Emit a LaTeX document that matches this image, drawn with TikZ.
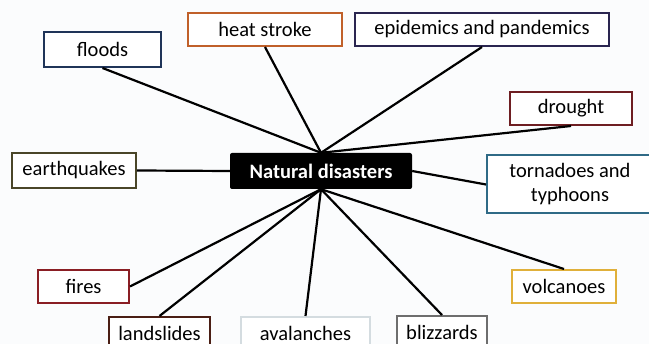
\documentclass[tikz,border=0pt]{standalone}
\usepackage{fontspec}
\setmainfont{Carlito}
\usepackage{xcolor}
\usepackage{tikz}

\definecolor{bgcol}{HTML}{FBFCFD}
\definecolor{floodcol}{HTML}{1F3458}
\definecolor{heatcol}{HTML}{C0602A}
\definecolor{epicol}{HTML}{2A2550}
\definecolor{droughtcol}{HTML}{6E1E22}
\definecolor{quakecol}{HTML}{4A4628}
\definecolor{tornadocol}{HTML}{2F6A86}
\definecolor{firecol}{HTML}{8A1E24}
\definecolor{slidecol}{HTML}{4A1E14}
\definecolor{avalcol}{HTML}{D4DCE0}
\definecolor{blizcol}{HTML}{6E6E6E}
\definecolor{volcol}{HTML}{E0B03A}

\begin{document}
\begin{tikzpicture}[x=1pt, y=-1pt,
    every node/.style={font=\fontsize{20.5}{24}\selectfont, inner sep=0pt},
    box/.style={rectangle, draw=#1, line width=2pt, fill=white, align=center},
    hub/.style={rectangle, rounded corners=2pt, fill=black, text=white, font=\fontsize{20.5}{24}\selectfont\bfseries},
    link/.style={line width=2.2pt, draw=black}]
    \fill[bgcol] (0,0) rectangle (649,344);
    \useasboundingbox (0,0) rectangle (649,344);

    \node (hub) at (321,171) [hub, minimum width=182pt, minimum height=36pt] {Natural disasters};

    \node (floods) at (102.5,49.5) [box=floodcol, minimum width=117pt, minimum height=35pt] {floods};
    \node (heat) at (265,29.5) [box=heatcol, minimum width=154pt, minimum height=33pt] {heat stroke};
    \node (epidemics) at (482,29.5) [box=epicol, minimum width=254pt, minimum height=33pt] {epidemics and pandemics};
    \node (drought) at (571,108.5) [box=droughtcol, minimum width=122pt, minimum height=33pt] {drought};
    \node (quakes) at (74,170.5) [box=quakecol, minimum width=124pt, minimum height=35pt] {earthquakes};
    \node (tornado) at (570,184.5) [box=tornadocol, minimum width=166pt, minimum height=58pt] {tornadoes and\\typhoons};
    \node (fires) at (83.5,286.5) [box=firecol, minimum width=91pt, minimum height=33pt] {fires};
    \node (volcano) at (564,286.5) [box=volcol, minimum width=104pt, minimum height=33pt] {volcanoes};
    \node (slides) at (159.5,333.5) [box=slidecol, minimum width=101pt, minimum height=33pt] {landslides};
    \node (avalanche) at (305.5,333.5) [box=avalcol, minimum width=129pt, minimum height=33pt] {avalanches};
    \node (blizzard) at (442,332.5) [box=blizcol, minimum width=90pt, minimum height=33pt] {blizzards};

    % spokes from the hub
    \draw[link] (hub.north) -- (floods.south);
    \draw[link] (hub.north) -- (heat.south);
    \draw[link] (hub.north) -- (epidemics.south);
    \draw[link] (hub.north) -- (drought.south);
    \draw[link] (hub.west) -- (quakes.east);
    \draw[link] (hub.east) -- (tornado.west);
    \draw[link] (hub.south) -- (fires.east);
    \draw[link] (hub.south) -- (slides.north);
    \draw[link] (hub.south) -- (avalanche.north);
    \draw[link] (hub.south) -- (blizzard.north);
    \draw[link] (hub.south) -- (volcano.north);
\end{tikzpicture}
\end{document}
